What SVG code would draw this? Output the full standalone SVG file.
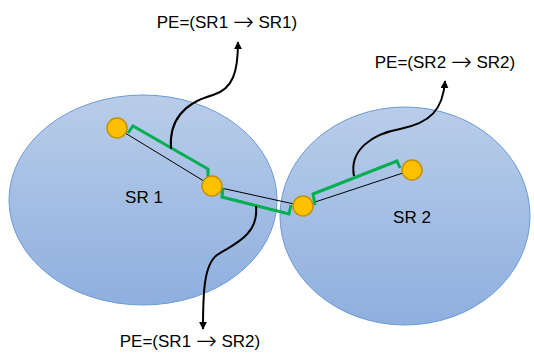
<svg xmlns="http://www.w3.org/2000/svg" width="534" height="354" viewBox="0 0 534 354">
<defs>
<linearGradient id="g" x1="0" y1="0" x2="0" y2="1">
<stop offset="0" stop-color="#b9cde9"/>
<stop offset="1" stop-color="#8eafdf"/>
</linearGradient>
<marker id="ah" viewBox="0 0 10 10" refX="9" refY="5" markerWidth="8" markerHeight="8" orient="auto" markerUnits="userSpaceOnUse">
<path d="M0,0 L10,5 L0,10 z" fill="#000"/>
</marker>
<style>
.reg{fill:url(#g);stroke:#6b9bd4;stroke-width:1}
.pt{fill:#ffc000;stroke:#c39200;stroke-width:1.5}
.ln{stroke:#000;stroke-width:1;fill:none}
.gr{stroke:#00b050;stroke-width:3;fill:none;stroke-linejoin:miter}
.cv{stroke:#000;stroke-width:2;fill:none;marker-end:url(#ah)}
text{font-family:"Liberation Sans",Arial,sans-serif;font-size:17px;fill:#000}
.ar{font-family:"DejaVu Sans",sans-serif;font-size:25px;font-weight:200}
</style>
</defs>
<g id="SR1">
<ellipse class="reg" cx="143" cy="200" rx="134" ry="105"/>
<text x="144" y="203" text-anchor="middle">SR 1</text>
</g>
<g id="SR2">
<ellipse class="reg" cx="405" cy="216" rx="125" ry="109"/>
<text x="412" y="223" text-anchor="middle">SR 2</text>
</g>
<g id="connectors">
<line class="ln" x1="117" y1="128" x2="212" y2="186"/>
<line class="ln" x1="212" y1="186" x2="303" y2="206"/>
<line class="ln" x1="303" y1="206" x2="412" y2="170"/>
<path class="gr" d="M128,133 L133,126 L208,169 L208,177"/>
<path class="gr" d="M223,188 L222,197 L289,214 L291,205"/>
<path class="gr" d="M315,205 L313,194 L397,161 L400,168"/>
<path class="cv" d="M171,149 C168,112 195,100 213,95 C233,89 238,72 238,42"/>
<path class="cv" d="M256,206 C259,236 232,245 217,255 C204,265 203,292 203,329"/>
<path class="cv" d="M354,176 C349,150 372,134 400,129 C430,123 443,110 445,81"/>
</g>
<g id="A"><circle class="pt" cx="117" cy="128" r="10"/></g>
<g id="B"><circle class="pt" cx="212" cy="186" r="10"/></g>
<g id="C"><circle class="pt" cx="303" cy="206" r="10"/></g>
<g id="D"><circle class="pt" cx="412" cy="170" r="10"/></g>
<g id="label1"><text x="227" y="28" text-anchor="middle">PE=(SR1 <tspan class="ar" dy="2">→</tspan><tspan dy="-2"> SR1)</tspan></text></g>
<g id="label2"><text x="445" y="68" text-anchor="middle">PE=(SR2 <tspan class="ar" dy="2">→</tspan><tspan dy="-2"> SR2)</tspan></text></g>
<g id="label3"><text x="190" y="347" text-anchor="middle">PE=(SR1 <tspan class="ar" dy="2">→</tspan><tspan dy="-2"> SR2)</tspan></text></g>
</svg>
